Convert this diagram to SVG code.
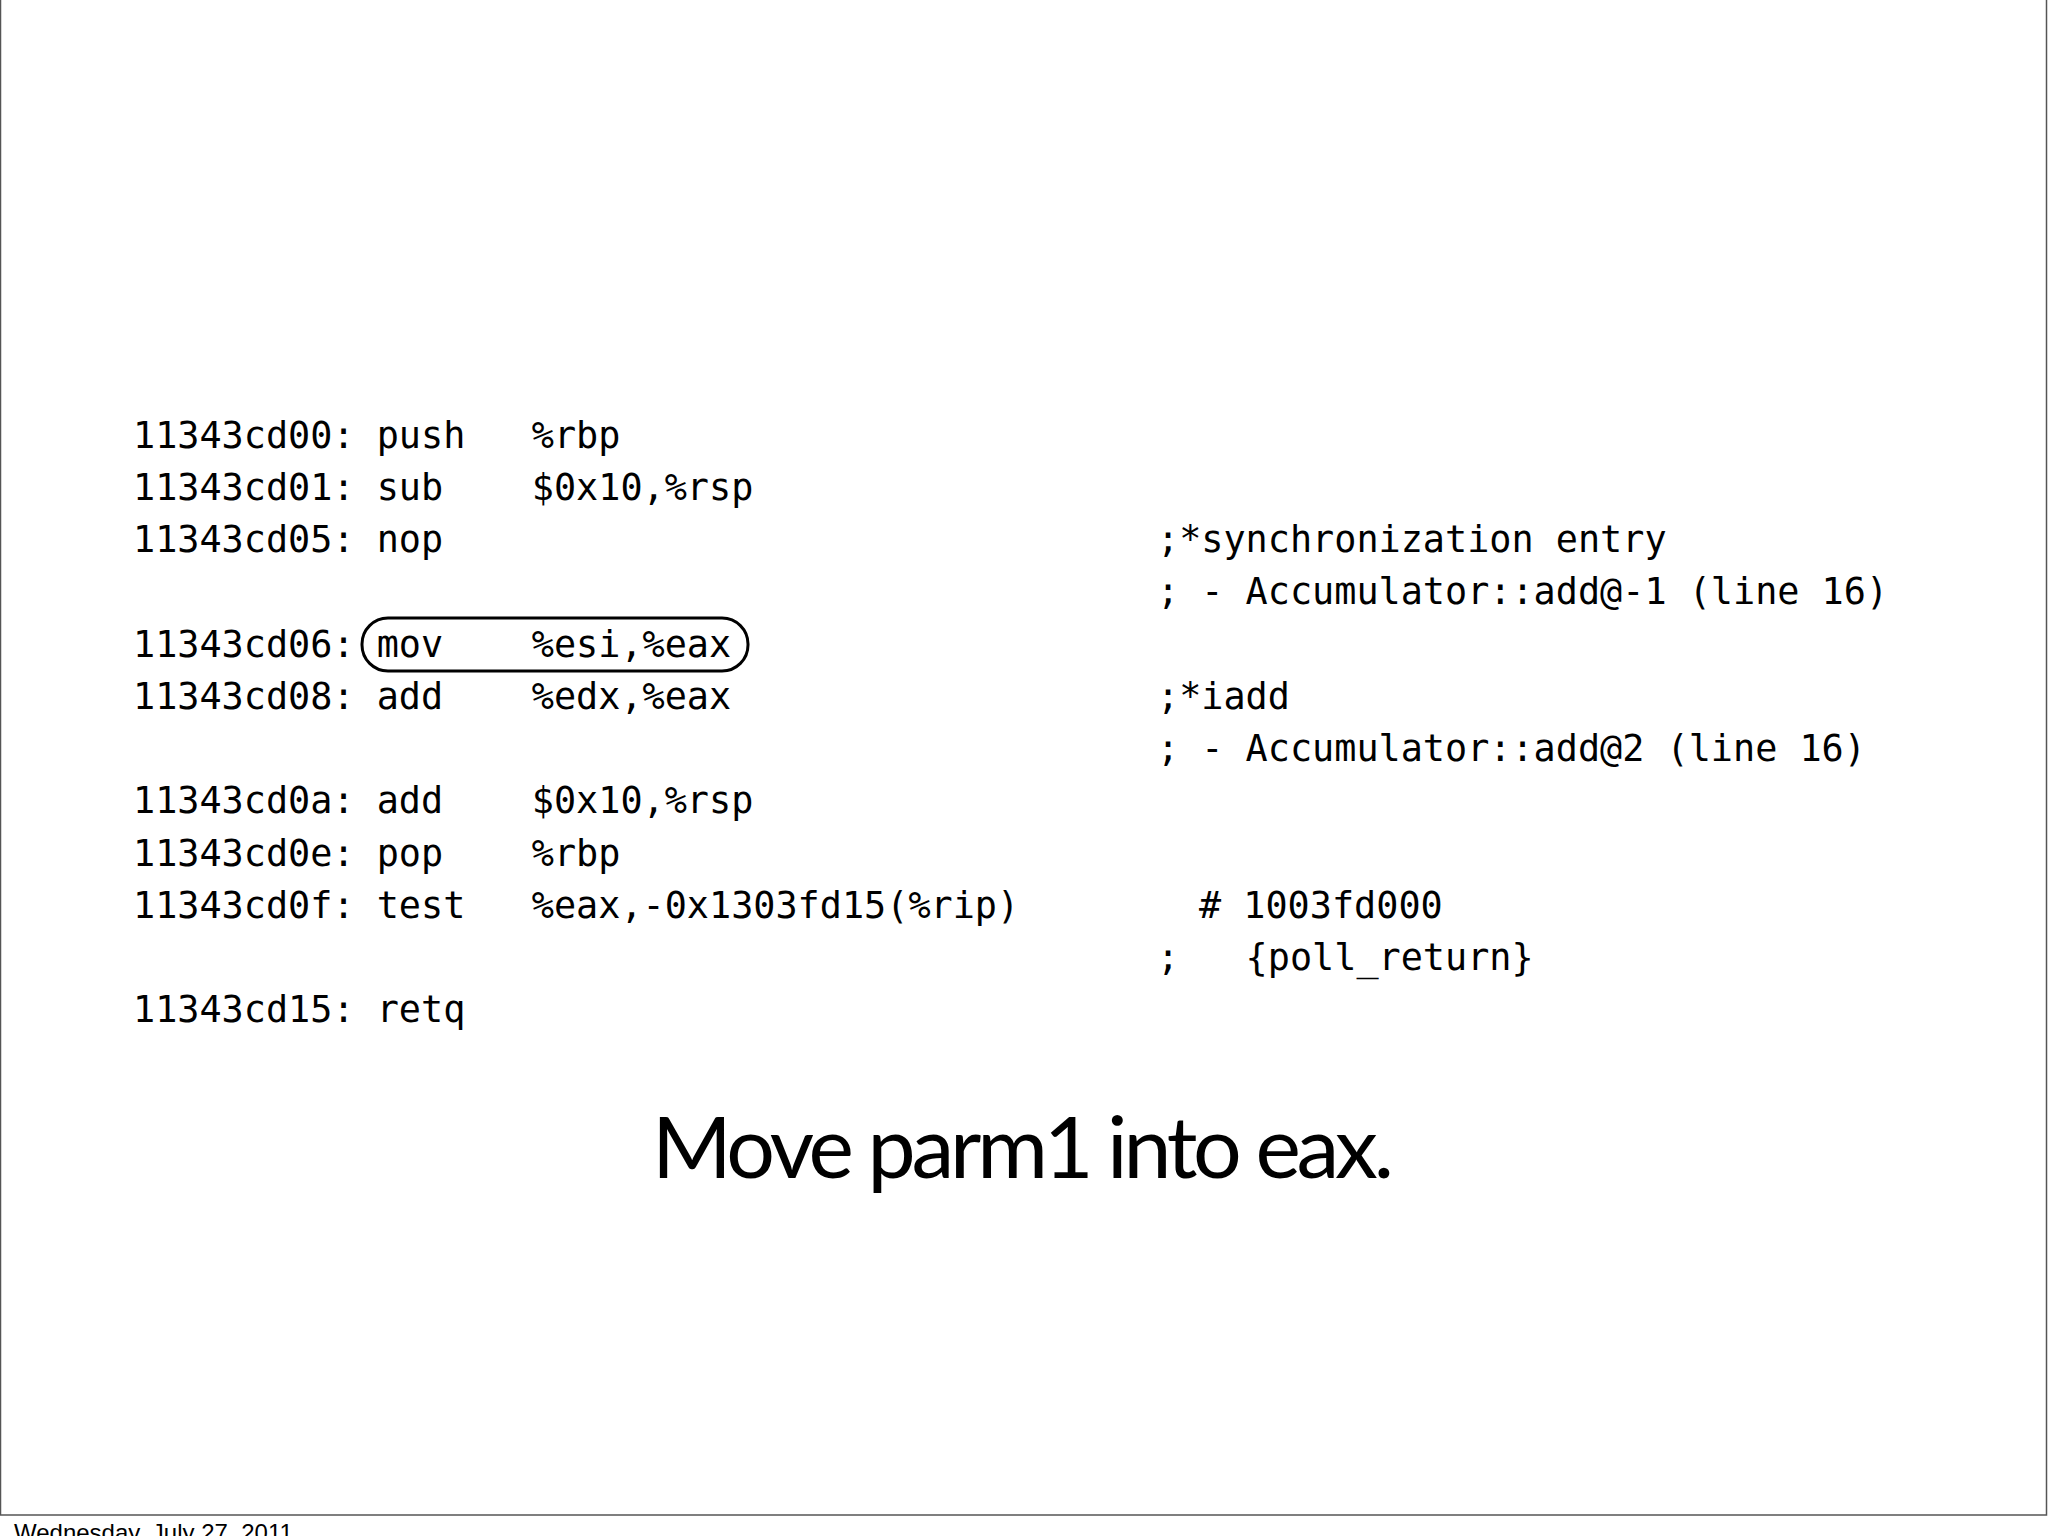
<svg xmlns="http://www.w3.org/2000/svg" width="2048" height="1536" viewBox="0 0 2048 1536">
<style>
.m{font-family:"DejaVu Sans Mono","Liberation Mono",monospace;font-size:36.8px;fill:#000;white-space:pre}
</style>
<rect width="2048" height="1536" fill="#fff"/>
<rect x="0.5" y="-2" width="2046" height="1517" fill="none" stroke="#555" stroke-width="1.5"/>
<g id="code">
<text class="m" x="133" y="448">11343cd00: push   %rbp</text>
<text class="m" x="133" y="500">11343cd01: sub    $0x10,%rsp</text>
<text class="m" x="133" y="552">11343cd05: nop</text>
<text class="m" x="1157" y="552">;*synchronization entry</text>
<text class="m" x="1157" y="604">; - Accumulator::add@-1 (line 16)</text>
<text class="m" x="133" y="657">11343cd06: mov    %esi,%eax</text>
<text class="m" x="133" y="709">11343cd08: add    %edx,%eax</text>
<text class="m" x="1157" y="709">;*iadd</text>
<text class="m" x="1157" y="761">; - Accumulator::add@2 (line 16)</text>
<text class="m" x="133" y="813">11343cd0a: add    $0x10,%rsp</text>
<text class="m" x="133" y="866">11343cd0e: pop    %rbp</text>
<text class="m" x="133" y="918">11343cd0f: test   %eax,-0x1303fd15(%rip)</text>
<text class="m" x="1199" y="918"># 1003fd000</text>
<text class="m" x="1157" y="970">;   {poll_return}</text>
<text class="m" x="133" y="1022">11343cd15: retq</text>
</g>
<g id="highlight">
<rect x="362" y="618" width="386" height="53" rx="26" fill="none" stroke="#000" stroke-width="3"/>
</g>
<text x="1023" y="1178" text-anchor="middle" font-family="Lato,'Liberation Sans',sans-serif" font-size="86" textLength="742">Move parm1 into eax.</text>
<text x="14" y="1541" font-family="'Liberation Sans',sans-serif" font-size="24">Wednesday, July 27, 2011</text>
</svg>
